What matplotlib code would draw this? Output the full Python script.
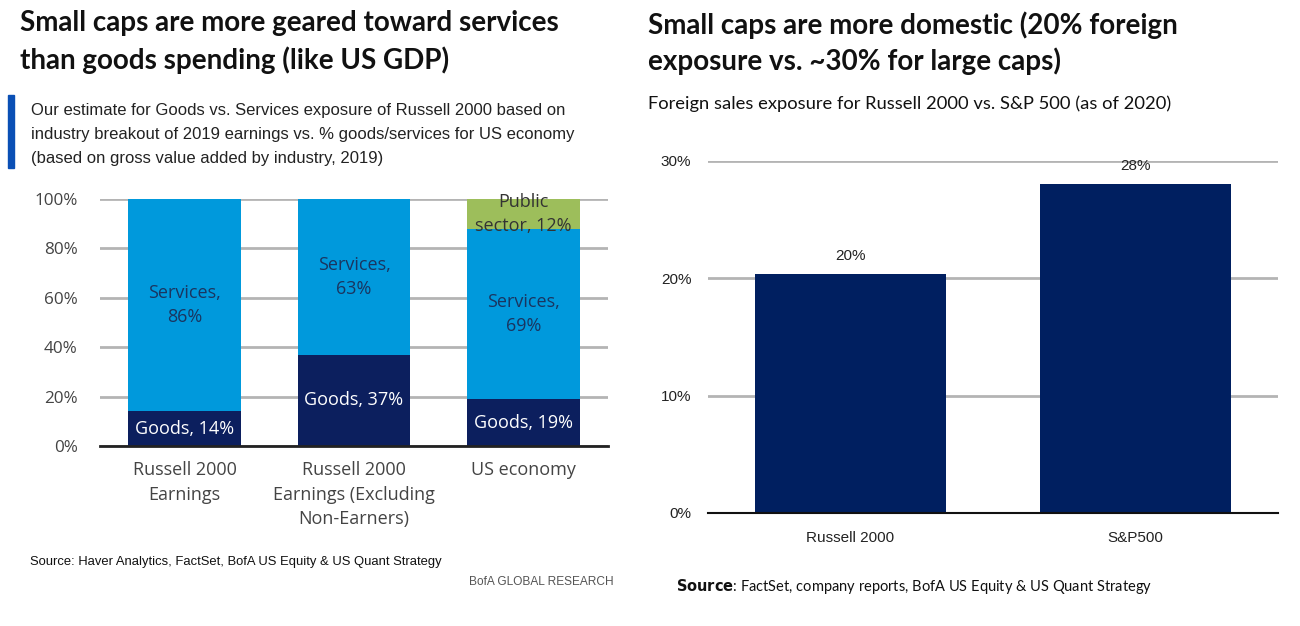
import matplotlib
matplotlib.use("Agg")
import matplotlib.pyplot as plt
from matplotlib.patches import Rectangle

# ---- data ----
left_categories = ["Russell 2000\nEarnings", "Russell 2000\nEarnings (Excluding\nNon-Earners)", "US economy"]
goods = [14, 37, 19]
services = [86, 63, 69]
public_sector = [0, 0, 12]
left_yticks = [0, 20, 40, 60, 80, 100]

right_categories = ["Russell 2000", "S&P500"]
foreign_exposure = [20.4, 28.0]
foreign_labels = ["20%", "28%"]
right_yticks = [0, 10, 20, 30]

LIGHT_BLUE = "#0099DC"
NAVY = "#0C1F5E"
GREEN = "#9DBE5B"
GRID = "#B4B4B4"
R_NAVY = "#001F60"

W, H = 1300, 626
fig = plt.figure(figsize=(W / 100, H / 100), dpi=100)

def fx(px):
    return px / W

def fy(py):
    return 1 - py / H

TITLE_FONT = ["Lato", "DejaVu Sans"]
NARROW = ["Liberation Sans Narrow", "Liberation Sans", "DejaVu Sans"]
SOFT = ["Open Sans", "DejaVu Sans"]

# ---- left panel texts ----
fig.text(fx(20), fy(23), "Small caps are more geared toward services", fontsize=20,
         fontweight="bold", family=TITLE_FONT, va="center", ha="left", color="#111111")
fig.text(fx(20), fy(60), "than goods spending (like US GDP)", fontsize=20,
         fontweight="bold", family=TITLE_FONT, va="center", ha="left", color="#111111")
fig.patches.append(Rectangle((fx(8), fy(168)), fx(6), (168 - 95) / H,
                             transform=fig.transFigure, color="#0A4FB5", zorder=3))
sub_lines = ["Our estimate for Goods vs. Services exposure of Russell 2000 based on",
             "industry breakout of 2019 earnings vs. % goods/services for US economy",
             "(based on gross value added by industry, 2019)"]
for i, line in enumerate(sub_lines):
    fig.text(fx(31), fy(110 + 24 * i), line, fontsize=12, family=NARROW,
             va="center", ha="left", color="#222222")
fig.text(fx(30), fy(562), "Source: Haver Analytics, FactSet, BofA US Equity & US Quant Strategy",
         fontsize=9.4, family=NARROW, va="center", ha="left", color="#111111")
fig.text(fx(614), fy(582), "BofA GLOBAL RESEARCH", fontsize=8.6, family=NARROW,
         va="center", ha="right", color="#555555")

# ---- left chart ----
axL = fig.add_axes([fx(100), fy(446), fx(608) - fx(100), (446 - 199) / H])
x = range(len(left_categories))
bw = 0.667
axL.bar(x, goods, bw, color=NAVY, zorder=2)
axL.bar(x, services, bw, bottom=goods, color=LIGHT_BLUE, zorder=2)
bottoms_pub = [g + s for g, s in zip(goods, services)]
axL.bar(x, public_sector, bw, bottom=bottoms_pub, color=GREEN, zorder=2)
axL.set_xlim(-0.5, 2.5)
axL.set_ylim(0, 100)
axL.set_yticks(left_yticks)
axL.set_yticklabels([f"{v}%" for v in left_yticks])
axL.set_xticks(list(x))
axL.set_xticklabels(left_categories, linespacing=1.45)
axL.tick_params(axis="y", length=0, labelsize=12.3, labelcolor="#444444", pad=16)
axL.tick_params(axis="x", length=0, labelsize=13, labelcolor="#444444", pad=11)
for lab in axL.get_xticklabels() + axL.get_yticklabels():
    lab.set_family(SOFT)
axL.yaxis.grid(True, color=GRID, linewidth=2, zorder=0)
axL.set_axisbelow(True)
for sp in ["top", "right", "left"]:
    axL.spines[sp].set_visible(False)
axL.spines["bottom"].set_color("#222222")
axL.spines["bottom"].set_linewidth(2)
axL.spines["bottom"].set_zorder(3)
for i in x:
    axL.text(i, goods[i] / 2, f"Goods, {goods[i]}%", ha="center", va="center",
             color="white", fontsize=13, family=SOFT, zorder=4)
    axL.text(i, goods[i] + services[i] / 2, f"Services,\n{services[i]}%", ha="center",
             va="center", color="#1A3560", fontsize=13, family=SOFT, linespacing=1.45, zorder=4)
    if public_sector[i] > 0:
        axL.text(i, bottoms_pub[i] + public_sector[i] / 2, f"Public\nsector, {public_sector[i]}%",
                 ha="center", va="center", color="#333333", fontsize=13, family=SOFT,
                 linespacing=1.45, zorder=4)

# ---- right panel texts ----
fig.text(fx(648), fy(25), "Small caps are more domestic (20% foreign", fontsize=20,
         fontweight="bold", family=TITLE_FONT, va="center", ha="left", color="#111111")
fig.text(fx(648), fy(61), "exposure vs. ~30% for large caps)", fontsize=20,
         fontweight="bold", family=TITLE_FONT, va="center", ha="left", color="#111111")
fig.text(fx(648), fy(104), "Foreign sales exposure for Russell 2000 vs. S&P 500 (as of 2020)",
         fontsize=13.2, family=TITLE_FONT, va="center", ha="left", color="#111111")
fig.text(fx(676), fy(587), r"$\bf{Source}$: FactSet, company reports, BofA US Equity & US Quant Strategy",
         fontsize=10.5, family=TITLE_FONT, va="center", ha="left", color="#111111")

# ---- right chart ----
axR = fig.add_axes([fx(708), fy(513), fx(1278) - fx(708), (513 - 161) / H])
xr = range(len(right_categories))
axR.bar(xr, foreign_exposure, 0.67, color=R_NAVY, zorder=2)
axR.set_xlim(-0.5, 1.5)
axR.set_ylim(0, 30)
axR.set_yticks(right_yticks)
axR.set_yticklabels([f"{v}%" for v in right_yticks])
axR.set_xticks(list(xr))
axR.set_xticklabels(right_categories)
axR.tick_params(axis="both", length=0, labelsize=11, labelcolor="#222222")
axR.tick_params(axis="y", pad=12)
axR.tick_params(axis="x", pad=13)
for lab in axR.get_xticklabels() + axR.get_yticklabels():
    lab.set_family(NARROW)
axR.yaxis.grid(True, color=GRID, linewidth=2, zorder=0)
axR.set_axisbelow(True)
for sp in ["top", "right", "left"]:
    axR.spines[sp].set_visible(False)
axR.spines["bottom"].set_color("#111111")
axR.spines["bottom"].set_linewidth(1.5)
for i in xr:
    axR.annotate(foreign_labels[i], (i, foreign_exposure[i]), xytext=(0, 18),
                 textcoords="offset pixels", ha="center", va="center", fontsize=11,
                 family=NARROW, color="#222222")

fig.savefig("out.png", dpi=100)
